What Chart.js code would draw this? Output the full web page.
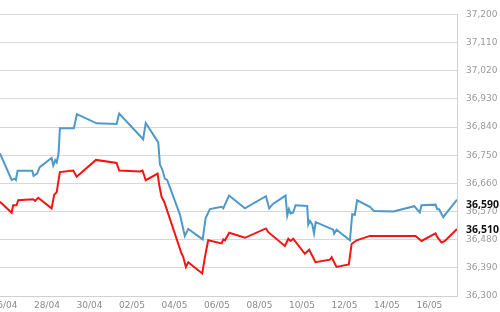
<!DOCTYPE html>
<html lang="en">
<head>
<meta charset="UTF-8" />
<title>Cotización</title>
<script src="https://cdn.jsdelivr.net/npm/chart.js"></script>
<style>
  html, body { margin: 0; padding: 0; background: #fff; overflow: hidden; }
  #wrap { position: absolute; left: -30px; top: 0; width: 530px; height: 312px; }
</style>
</head>
<body>
<div id="wrap"><canvas id="grafico"></canvas></div>
<script>
// dias contados desde el 26/04
const xTickDays = [0, 2, 4, 6, 8, 10, 12, 14, 16, 18, 20];
const xTickLabels = ['26/04', '28/04', '30/04', '02/05', '04/05', '06/05', '08/05', '10/05', '12/05', '14/05', '16/05'];

const blueX = [-0.21, 0.34, 0.49, 0.54, 0.62, 1.31, 1.37, 1.54, 1.66, 2.22, 2.30, 2.39, 2.46, 2.55, 2.61, 3.27, 3.41,
  4.34, 5.28, 5.40, 6.53, 6.65, 7.24, 7.32, 7.43, 7.55, 7.66, 8.26, 8.49, 8.65, 9.33, 9.47, 9.67, 10.22, 10.30,
  10.57, 11.32, 12.31, 12.46, 12.65, 13.23, 13.31, 13.39, 13.47, 13.59, 13.70, 14.25, 14.30, 14.38, 14.49, 14.57,
  14.65, 15.47, 15.52, 15.63, 16.26, 16.37, 16.49, 16.60, 17.20, 17.39, 18.30, 19.29, 19.47, 19.55, 19.63, 20.29,
  20.37, 20.46, 20.65, 21.30];
const blueY = [36756, 36671, 36675, 36671, 36700, 36700, 36684, 36691, 36712, 36741, 36717, 36734, 36727, 36756, 36836, 36836, 36881,
  36852, 36850, 36883, 36801, 36853, 36791, 36720, 36704, 36675, 36671, 36560, 36492, 36514, 36481, 36549, 36578, 36585, 36580,
  36621, 36580, 36619, 36580, 36595, 36621, 36557, 36578, 36564, 36567, 36590, 36588, 36528, 36540, 36528, 36500,
  36536, 36512, 36499, 36512, 36478, 36562, 36559, 36606, 36585, 36572, 36570, 36587, 36573, 36567, 36590, 36592,
  36577, 36577, 36552, 36608];

const redX = [-0.21, 0.34, 0.41, 0.57, 0.65, 1.36, 1.44, 1.59, 2.22, 2.34, 2.46, 2.61, 3.24, 3.40, 4.31, 5.28, 5.40,
  6.38, 6.50, 6.65, 7.21, 7.29, 7.40, 7.51, 8.34, 8.41, 8.54, 8.65, 9.31, 9.44, 9.59, 10.22, 10.30, 10.38, 10.58,
  11.32, 12.31, 12.42, 13.20, 13.36, 13.47, 13.59, 14.14, 14.34, 14.50, 14.64, 15.32, 15.40, 15.63, 16.21, 16.34,
  16.58, 17.20, 19.35, 19.63, 20.29, 20.37, 20.57, 20.73, 21.30];
const redY = [36601, 36566, 36590, 36590, 36606, 36609, 36604, 36614, 36580, 36623, 36632, 36696, 36701, 36681, 36735, 36725, 36701,
  36698, 36701, 36670, 36691, 36653, 36616, 36603, 36435, 36426, 36393, 36408, 36372, 36426, 36478, 36468, 36481, 36478, 36502,
  36486, 36516, 36504, 36460, 36483, 36476, 36483, 36435, 36448, 36427, 36408, 36416, 36424, 36393, 36401, 36466,
  36478, 36492, 36492, 36476, 36500, 36489, 36471, 36476, 36514];

// valores actuales marcados en el eje
const currentBlue = 36590;
const currentRed = 36510;

const yMin = 36300, yMax = 37200, yStep = 90;

const toPoints = (xs, ys) => xs.map((x, i) => ({ x: x, y: ys[i] }));

// etiquetas en negrita con el valor actual
const marcasActuales = {
  id: 'marcasActuales',
  afterDraw(chart) {
    const ctx = chart.ctx;
    const y = chart.scales.y;
    ctx.save();
    ctx.font = 'bold 10.5px "Open Sans"';
    ctx.fillStyle = '#111';
    ctx.textBaseline = 'middle';
    ctx.textAlign = 'left';
    [currentBlue, currentRed].forEach((v) => {
      ctx.fillText(v.toLocaleString('en-US'), y.left + 9, y.getPixelForValue(v));
    });
    ctx.restore();
  }
};

new Chart(document.getElementById('grafico'), {
  type: 'line',
  data: {
    datasets: [
      {
        data: toPoints(blueX, blueY),
        borderColor: '#4f99c9',
        borderWidth: 2,
        pointRadius: 0,
        tension: 0
      },
      {
        data: toPoints(redX, redY),
        borderColor: '#f51414',
        borderWidth: 2,
        pointRadius: 0,
        tension: 0
      }
    ]
  },
  options: {
    responsive: true,
    maintainAspectRatio: false,
    animation: false,
    layout: { padding: { top: 7, left: 0, right: 0, bottom: 0 } },
    plugins: { legend: { display: false }, tooltip: { enabled: false } },
    scales: {
      x: {
        type: 'linear',
        min: -1.62,
        max: 21.3,
        afterBuildTicks: (axis) => {
          axis.ticks = xTickDays.map((d) => ({ value: d }));
        },
        afterFit: (axis) => { axis.height = 16; },
        grid: { display: false, drawTicks: false },
        border: { display: true, color: '#d0d0d0', width: 1 },
        ticks: {
          padding: 4,
          autoSkip: false,
          maxRotation: 0,
          color: '#8a8a8a',
          font: { family: 'DejaVu Sans', size: 9 },
          callback: (v) => xTickLabels[xTickDays.indexOf(v)]
        }
      },
      y: {
        position: 'right',
        min: yMin,
        max: yMax,
        afterBuildTicks: (axis) => {
          const t = [];
          for (let v = yMin; v <= yMax; v += yStep) t.push({ value: v });
          axis.ticks = t;
        },
        afterFit: (axis) => { axis.width = 43; },
        grid: { color: '#d8d8d8', lineWidth: 1, drawTicks: false },
        border: { display: true, color: '#d0d0d0', width: 1 },
        ticks: {
          padding: 9,
          color: '#9a9a9a',
          font: { family: 'DejaVu Sans', size: 9 },
          callback: (v) => v.toLocaleString('en-US')
        }
      }
    }
  },
  plugins: [marcasActuales]
});
</script>
</body>
</html>
